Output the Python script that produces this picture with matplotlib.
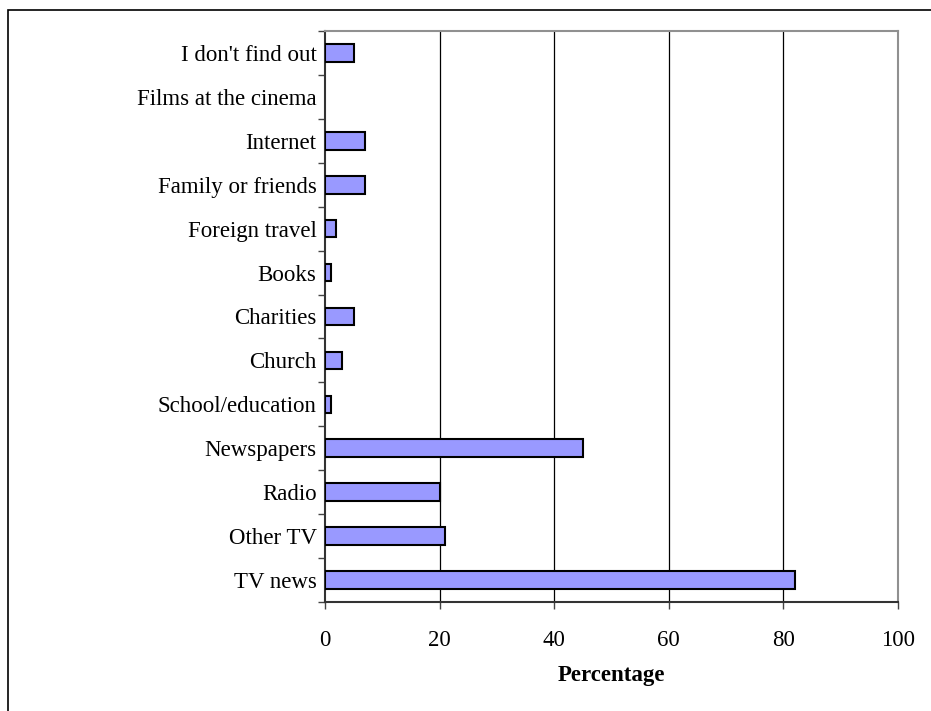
import matplotlib
matplotlib.use("Agg")
import matplotlib.pyplot as plt
from matplotlib.patches import Rectangle
import numpy as np

categories = ["TV news", "Other TV", "Radio", "Newspapers", "School/education",
              "Church", "Charities", "Books", "Foreign travel", "Family or friends",
              "Internet", "Films at the cinema", "I don't find out"]
values = [82, 21, 20, 45, 1, 3, 5, 1, 2, 7, 7, 0, 5]
x_ticks = [0, 20, 40, 60, 80, 100]

plt.rcParams['font.family'] = ['Liberation Serif', 'DejaVu Serif']

W, H = 931, 711
fig = plt.figure(figsize=(W / 100, H / 100), dpi=100)
ax = fig.add_axes([325 / W, 1 - 602 / H, (898 - 325) / W, (602 - 31) / H])

# outer frame
fig.patches.append(Rectangle((8 / W, -0.05), 1.0, 1 - 10 / H + 0.05,
                             transform=fig.transFigure, fill=False,
                             edgecolor='black', linewidth=1.2))

y = np.arange(len(categories))
edges = ['black' if v > 0 else 'none' for v in values]
ax.barh(y, values, height=0.4, color='#9999FF', edgecolor=edges,
        linewidth=1.5, zorder=3)

ax.set_xlim(0, 100)
ax.set_ylim(-0.5, len(categories) - 0.5)
ax.set_xticks(x_ticks)
ax.set_xticklabels([str(t) for t in x_ticks], fontsize=16.5)
ax.set_yticks(y)
ax.set_yticklabels(categories, fontsize=16.5)
ax.set_yticks(np.arange(-0.5, len(categories), 1), minor=True)
ax.tick_params(axis='y', which='major', length=0, pad=6)
ax.tick_params(axis='y', which='minor', length=5, width=1, color='#444444', direction='out')
ax.tick_params(axis='x', which='major', length=5, width=1, color='#444444',
               direction='out', pad=15)

for xv in x_ticks[1:-1]:
    ax.axvline(xv, color='black', linewidth=0.9, zorder=1)

ax.spines['left'].set_color('#333333')
ax.spines['bottom'].set_color('#333333')
ax.spines['top'].set_color('#909090')
ax.spines['right'].set_color('#909090')
for s in ax.spines.values():
    s.set_linewidth(1.5)

ax.set_xlabel('Percentage', fontsize=16.5, fontweight='bold', labelpad=10)

fig.savefig('out.png', dpi=100)
